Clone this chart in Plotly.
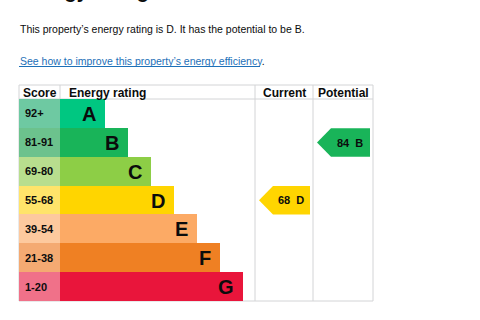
import plotly.graph_objects as go

# ---- data ----
bands = ["A", "B", "C", "D", "E", "F", "G"]
score_labels = ["92+", "81-91", "69-80", "55-68", "39-54", "21-38", "1-20"]
band_low = [92, 81, 69, 55, 39, 21, 1]
band_steps = [1, 2, 3, 4, 5, 6, 7]
current_score = 68
potential_score = 84
headers = ["Score", "Energy rating", "Current", "Potential"]
intro_text = "This property\u2019s energy rating is D. It has the potential to be B."
link_text = "See how to improve this property\u2019s energy efficiency"
title_text = "Energy rating and score"

# ---- styles ----
bar_colors = ["#00c781", "#19b459", "#8dce46", "#ffd500", "#fcaa65", "#ef8023", "#e9153b"]
score_colors = ["#6ec9a2", "#6cc28d", "#b8de8e", "#ffe46a", "#fdc99e", "#f4aa72", "#f07189"]
GRID = "#d3d4d6"
TXT = "#0b0c0c"
FONT_T = "Liberation Sans, Arial, sans-serif"

# layout geometry (pixel-like units)
L, X_SC, X_ER, X_CU, X_PO, R = 19, 60, 255, 313, 373, 373
Y_TOP, Y_HDR, Y_BOT = 85, 99, 301
ROW_H = (Y_BOT - Y_HDR) / len(bands)
UNIT = 23

def band_index(score):
    for i, lo in enumerate(band_low):
        if score >= lo:
            return i
    return len(bands) - 1

row_top = [Y_HDR + i * ROW_H for i in range(len(bands))]
row_mid = [t + ROW_H / 2 for t in row_top]
bar_len = [22 + UNIT * s for s in band_steps]

fig = go.Figure()

# score cells
fig.add_trace(go.Bar(orientation="h", y=row_mid, x=[X_SC - L] * len(bands), base=L,
                     width=ROW_H, marker=dict(color=score_colors, line=dict(width=0)),
                     hoverinfo="skip"))
# rating bars
fig.add_trace(go.Bar(orientation="h", y=row_mid, x=bar_len, base=X_SC,
                     width=ROW_H, marker=dict(color=bar_colors, line=dict(width=0)),
                     hoverinfo="skip"))

annotations = []
for i, b in enumerate(bands):
    annotations.append(dict(x=X_SC + bar_len[i] - 7, y=row_mid[i] + 0.5, text="<b>%s</b>" % b,
                            xanchor="right", yanchor="middle", showarrow=False,
                            font=dict(family=FONT_T, size=20, color=TXT)))
    annotations.append(dict(x=L + 4, y=row_mid[i], text="<b>%s</b>" % score_labels[i],
                            xanchor="left", yanchor="middle", showarrow=False,
                            font=dict(family=FONT_T, size=11, color=TXT)))

# arrows for current / potential
def add_arrow(score, x0, x1):
    i = band_index(score)
    t, b = row_top[i] + 0.5, row_top[i] + ROW_H
    m = (t + b) / 2
    xs = [x0 + 4, x0 + 18, x1 - 3, x1 - 3, x0 + 18, x0 + 4]
    ys = [m, t, t, b, b, m]
    fig.add_trace(go.Scatter(x=xs, y=ys, fill="toself", mode="lines",
                             fillcolor=bar_colors[i], line=dict(width=0, color=bar_colors[i]),
                             hoverinfo="skip"))
    annotations.append(dict(x=(x0 + 18 + x1 - 3) / 2 - 1, y=m, text="<b>%d\u00a0\u00a0%s</b>" % (score, bands[i]),
                            xanchor="center", yanchor="middle", showarrow=False,
                            font=dict(family=FONT_T, size=11, color=TXT)))

add_arrow(current_score, X_ER, X_CU)
add_arrow(potential_score, X_CU, X_PO)

# headers
hy = (Y_TOP + Y_HDR) / 2 + 0.5
annotations += [
    dict(x=(L + X_SC) / 2, y=hy, text="<b>%s</b>" % headers[0], xanchor="center"),
    dict(x=X_SC + 7, y=hy, text="<b>%s</b>" % headers[1], xanchor="left"),
    dict(x=(X_ER + X_CU) / 2, y=hy, text="<b>%s</b>" % headers[2], xanchor="center"),
    dict(x=(X_CU + X_PO) / 2, y=hy, text="<b>%s</b>" % headers[3], xanchor="center"),
]
for a in annotations[-4:]:
    a.update(yanchor="middle", showarrow=False, font=dict(family=FONT_T, size=12, color=TXT))

# intro texts
annotations.append(dict(x=L - 1, y=29, text=intro_text, xanchor="left", yanchor="middle",
                        showarrow=False, font=dict(family=FONT_T, size=10.5, color=TXT)))
annotations.append(dict(x=L - 1, y=61, text=link_text + '<span style="color:#0b0c0c">.</span>',
                        xanchor="left", yanchor="middle",
                        showarrow=False, font=dict(family=FONT_T, size=10.5, color="#1d70b8")))
annotations.append(dict(x=L - 1, y=4, text="<b>%s</b>" % title_text, xanchor="left", yanchor="bottom",
                        showarrow=False, font=dict(family=FONT_T, size=20, color=TXT)))

shapes = []
def line(x0, y0, x1, y1, color=GRID, w=1):
    shapes.append(dict(type="line", x0=x0, y0=y0, x1=x1, y1=y1, xref="x", yref="y",
                       line=dict(color=color, width=w), layer="below"))

line(L, Y_TOP, R, Y_TOP)
line(L, Y_HDR, R, Y_HDR)
line(L, Y_BOT, R, Y_BOT)
line(L, Y_TOP, L, Y_BOT)
line(X_SC, Y_TOP, X_SC, Y_HDR)
line(X_ER, Y_TOP, X_ER, Y_BOT)
line(X_CU, Y_TOP, X_CU, Y_BOT)
line(R, Y_TOP, R, Y_BOT)
# link underline
line(L, 66.5, 260, 66.5, color="#1d70b8", w=1)

fig.update_layout(
    width=480, height=320, margin=dict(l=0, r=0, t=0, b=0),
    paper_bgcolor="white", plot_bgcolor="white", showlegend=False,
    barmode="overlay", bargap=0,
    xaxis=dict(range=[0, 480], visible=False, fixedrange=True),
    yaxis=dict(range=[320, 0], visible=False, fixedrange=True),
    annotations=annotations, shapes=shapes,
)

fig.write_html("out.html")
